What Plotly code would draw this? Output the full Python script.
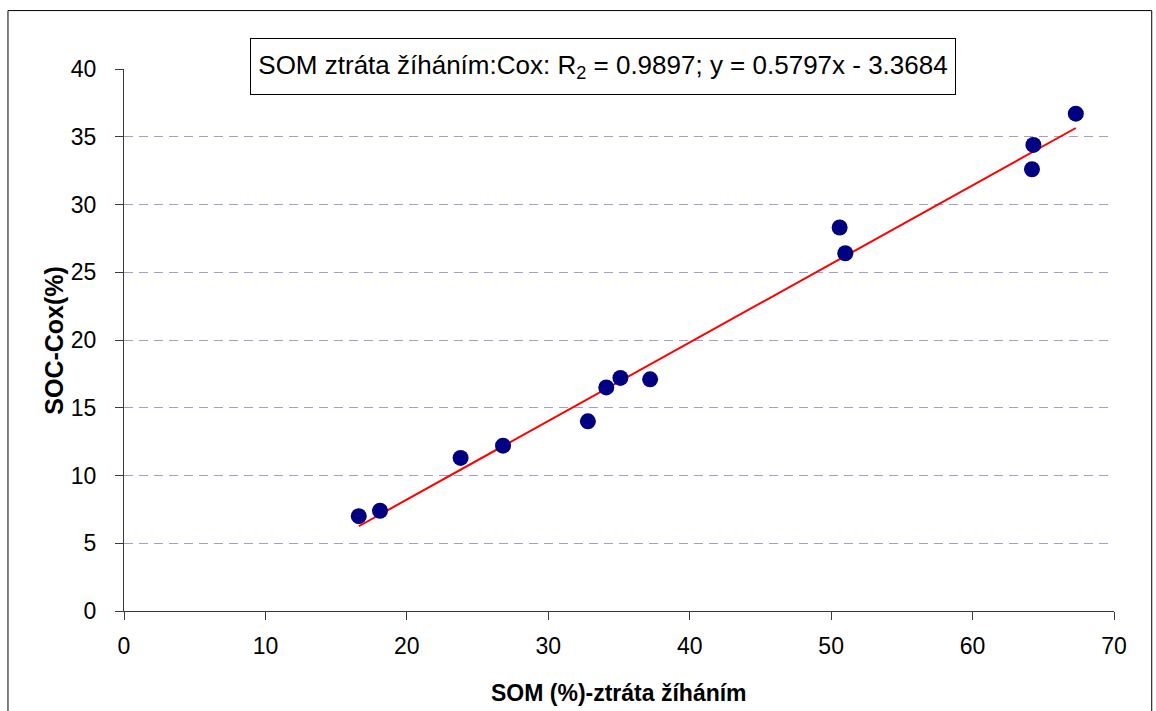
import plotly.graph_objects as go

# Data
som_loss = [16.6, 18.1, 23.8, 26.8, 32.8, 34.1, 35.1, 37.2, 50.6, 51.0, 64.2, 64.3, 67.3]
soc_cox = [7.0, 7.4, 11.3, 12.2, 14.0, 16.5, 17.2, 17.1, 28.3, 26.4, 32.6, 34.4, 36.7]
slope = 0.5797
intercept = -3.3684
r2 = 0.9897
x_ticks = [0, 10, 20, 30, 40, 50, 60, 70]
y_ticks = [0, 5, 10, 15, 20, 25, 30, 35, 40]

FONT = "Liberation Sans, Arial, sans-serif"
AXIS_COLOR = "#3a3a3a"
GRID_COLOR = "#a0a0cc"

trend_x = [min(som_loss), max(som_loss)]
trend_y = [slope * v + intercept for v in trend_x]

fig = go.Figure()
fig.add_trace(go.Scatter(
    x=trend_x, y=trend_y, mode="lines",
    line=dict(color="#ff0000", width=2),
    showlegend=False, hoverinfo="skip",
))
fig.add_trace(go.Scatter(
    x=som_loss, y=soc_cox, mode="markers",
    marker=dict(color="#000080", size=16, line=dict(width=0)),
    showlegend=False, cliponaxis=False,
))

fig.update_layout(
    width=1156, height=711,
    margin=dict(l=124.3, r=41.7, t=69.4, b=100.3),
    paper_bgcolor="white", plot_bgcolor="white",
    font=dict(family=FONT, color="black", size=23),
    xaxis=dict(
        range=[0, 70], tickvals=x_ticks, ticktext=[str(v) for v in x_ticks],
        showgrid=False, zeroline=False,
        showline=True, linecolor=AXIS_COLOR, linewidth=1,
        ticks="outside", ticklen=8, tickcolor=AXIS_COLOR, tickwidth=1,
        tickfont=dict(size=23), ticklabelstandoff=6,
    ),
    yaxis=dict(
        range=[0, 40], tickvals=y_ticks, ticktext=[str(v) for v in y_ticks],
        showgrid=True, gridcolor=GRID_COLOR, gridwidth=1, griddash="9px,6px",
        zeroline=False,
        showline=True, linecolor=AXIS_COLOR, linewidth=1,
        ticks="outside", ticklen=8, tickcolor=AXIS_COLOR, tickwidth=1,
        tickfont=dict(size=23), ticklabelstandoff=14,
    ),
    annotations=[
        dict(
            text="SOM ztráta žíháním:Cox: R<sub>2</sub> = " + f"{r2:.4f}; y = {slope:.4f}x - {abs(intercept):.4f}",
            xref="paper", yref="paper", x=0.4843, y=1.0039,
            xanchor="center", yanchor="middle", showarrow=False,
            font=dict(size=26, family=FONT, color="black"),
            bgcolor="white", bordercolor="black", borderwidth=1, borderpad=0,
            width=704, height=55,
        ),
        dict(
            text="<b>SOM (%)-ztráta žíháním</b>",
            xref="paper", yref="paper", x=0.5, y=-0.152,
            xanchor="center", yanchor="middle", showarrow=False,
            font=dict(size=23, family=FONT, color="black"),
        ),
        dict(
            text="<b>SOC-Cox(%)</b>",
            xref="paper", yref="paper", x=-0.071, y=0.5, textangle=-90,
            xanchor="center", yanchor="middle", showarrow=False,
            font=dict(size=25, family=FONT, color="black"),
        ),
    ],
    shapes=[
        dict(type="rect", xref="paper", yref="paper",
             x0=-0.1172, x1=1.0381, y0=-0.1927, y1=1.1078,
             line=dict(color="black", width=1), fillcolor="rgba(0,0,0,0)", layer="below"),
    ],
)

fig.write_html(
    "out.html",
    config={"displayModeBar": False},
    post_script="document.body.style.margin='0';document.body.style.overflow='hidden';",
)
